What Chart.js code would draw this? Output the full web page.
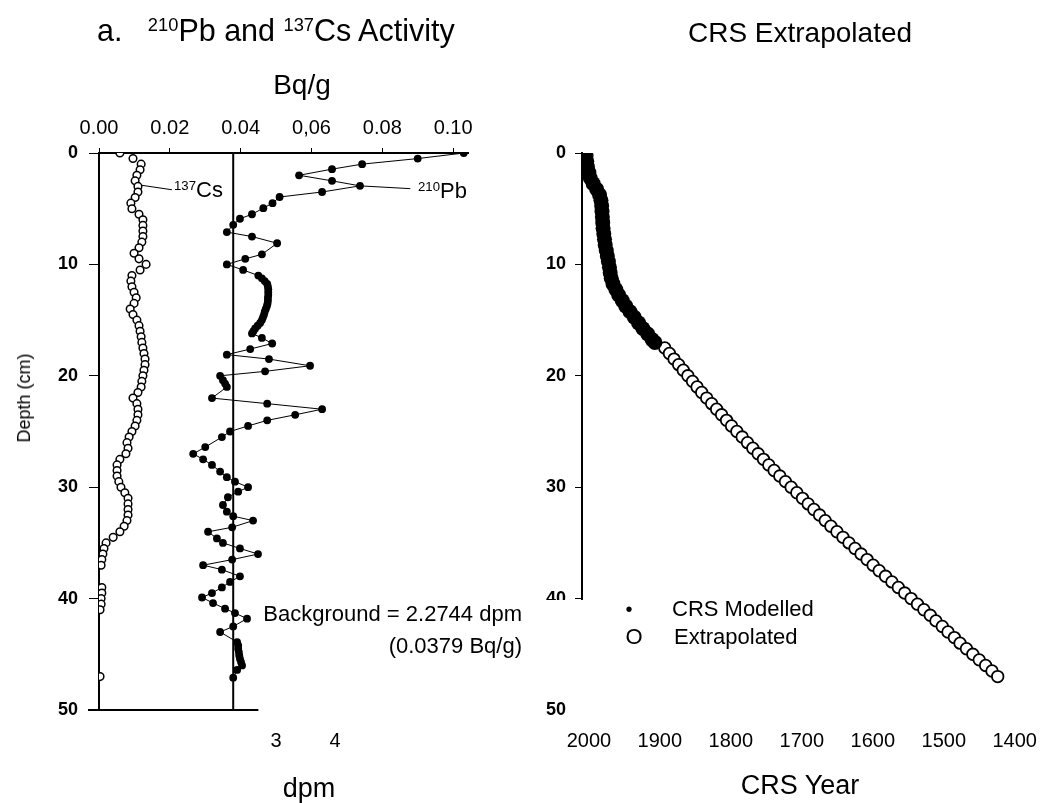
<!DOCTYPE html>
<html>
<head>
<meta charset="utf-8">
<script src="https://cdn.jsdelivr.net/npm/chart.js@4.4.1/dist/chart.umd.min.js"></script>
<style>
  body { margin: 0; background: #fff; }
  #wrap { position: relative; width: 1048px; height: 803px; overflow: hidden;
          font-family: "Liberation Sans", Arial, sans-serif; color: #000; }
  canvas { position: absolute; top: 0; }
  .t { position: absolute; white-space: nowrap; line-height: 1; }
  .c { transform: translate(-50%, -50%); }
  sup { font-size: 0.6em; vertical-align: 0.55em; }
  .mask { position: absolute; background: #fff; z-index: 2; }
</style>
</head>
<body>
<div id="wrap">
  <canvas id="leftChart" width="540" height="803" style="left:0"></canvas>
  <canvas id="rightChart" width="508" height="803" style="left:540px"></canvas>

  <div class="t" style="left:97px; top:15px; font-size:30.5px;">a.&nbsp;&nbsp;&nbsp;<sup>210</sup>Pb and <sup>137</sup>Cs Activity</div>
  <div class="t c" style="left:800px; top:33px; font-size:28px;">CRS Extrapolated</div>
  <div class="t c" style="left:302px; top:85px; font-size:28px;">Bq/g</div>
  <div class="t c" style="left:309px; top:788px; font-size:27px;">dpm</div>
  <div class="t c" style="left:800px; top:785px; font-size:27px;">CRS Year</div>
  <div class="t" style="left:24px; top:398px; font-size:18px; transform: translate(-50%, -50%) rotate(-90deg);">Depth (cm)</div>

  <div class="t" style="left:174px; top:179px; font-size:22px;"><sup>137</sup>Cs</div>
  <div class="t" style="left:418px; top:180px; font-size:22px;"><sup>210</sup>Pb</div>
  <div class="t" style="right:526px; top:603px; font-size:22px; text-align:right;">Background = 2.2744 dpm<br><span style="display:inline-block; margin-top:10px;">(0.0379 Bq/g)</span></div>

  <!-- legend panel sits over the lower end of the right-hand depth axis -->
  <div class="mask" style="left:570px; top:600px; width:30px; height:116px;"></div>
  <div class="mask" style="left:540px; top:600px; width:280px; height:88px;">
    <div class="t c" style="left:89px; top:9px; font-size:20px;">&bull;</div>
    <div class="t" style="left:132px; top:-2px; font-size:22px;">CRS Modelled</div>
    <div class="t c" style="left:94px; top:37px; font-size:22px;">O</div>
    <div class="t" style="left:134px; top:26px; font-size:22px;">Extrapolated</div>
  </div>
</div>

<script>
// ---- left panel: activity profiles (depth in cm, activity in Bq/g) ----
const bqTicks = [0, 0.02, 0.04, 0.06, 0.08, 0.10];
const bqTickLabels = ["0.00", "0.02", "0.04", "0,06", "0.08", "0.10"];
const dpmTicks = [3, 4];
const depthTicks = [0, 10, 20, 30, 40, 50];
const dpmPerBq = 2.2744 / 0.0379;
const background = 0.0379;

const pbDepth = [
  0, 0.5, 1.0, 1.45, 2.0, 2.5, 2.95, 3.5, 3.95, 4.5,
  4.95, 5.5, 5.9, 6.45, 7.1, 7.5, 8.1, 9.1, 9.5, 10.0,
  10.5, 11.0, 11.25, 11.5, 11.75, 12.0, 12.25, 12.5, 12.75, 13.0,
  13.25, 13.5, 13.75, 14.0, 14.25, 14.5, 14.75, 15.0, 15.25, 15.5,
  15.75, 16.0, 16.2, 16.6, 17.1, 17.6, 18.1, 18.5, 19.1, 19.6,
  20.0, 20.4, 20.7, 21.0, 22.0, 22.5, 23.0, 23.5, 24.0, 24.5,
  25.0, 25.5, 26.4, 27.0, 27.5, 28.0, 28.6, 29.1, 29.5, 30.0,
  30.4, 30.9, 31.6, 32.2, 32.6, 33.0, 33.6, 34.0, 34.6, 35.0,
  35.5, 36.0, 36.5, 37.0, 37.4, 38.0, 38.5, 39.0, 39.5, 39.9,
  40.4, 40.9, 41.3, 41.8, 42.5, 43.0, 43.9, 44.2, 44.5, 44.8,
  45.1, 45.4, 45.7, 46.0, 46.4, 47.1
];
const pbBq = [
  0.103, 0.090, 0.0743, 0.0658, 0.0565, 0.0658, 0.0737, 0.063, 0.051, 0.049,
  0.0464, 0.0432, 0.0398, 0.0379, 0.0361, 0.0432, 0.0503, 0.046, 0.0413, 0.0361,
  0.0407, 0.0450, 0.0460, 0.0468, 0.0475, 0.0477, 0.0478, 0.0478, 0.0478, 0.0477,
  0.0477, 0.0476, 0.0474, 0.0471, 0.0468, 0.0466, 0.0463, 0.0460, 0.0455, 0.0448,
  0.0441, 0.0436, 0.0432, 0.0460, 0.0489, 0.0427, 0.0361, 0.0480, 0.0596, 0.0469,
  0.0342, 0.0350, 0.0356, 0.0361, 0.0319, 0.0475, 0.0630, 0.0554, 0.0475, 0.0421,
  0.0370, 0.0347, 0.0300, 0.0266, 0.0294, 0.0319, 0.0342, 0.0361, 0.0384, 0.0421,
  0.0393, 0.0364, 0.0350, 0.0361, 0.0379, 0.0435, 0.0376, 0.0308, 0.0333, 0.0350,
  0.0398, 0.0449, 0.0376, 0.0294, 0.0347, 0.0398, 0.0370, 0.0347, 0.0319, 0.0291,
  0.0322, 0.0356, 0.0384, 0.0418, 0.0379, 0.0342, 0.0390, 0.0393, 0.0393, 0.0395,
  0.0396, 0.0398, 0.0401, 0.0404, 0.0390, 0.0379
];

const csDepth = [
  0, 0.5, 1, 1.5, 2, 2.5, 3, 3.5, 4, 4.5,
  5, 5.5, 6, 6.5, 7, 7.5, 8, 8.5, 9, 9.5,
  10, 10.5, 11, 11.5, 12, 12.5, 13, 13.5, 14, 14.5,
  15, 15.5, 16, 16.5, 17, 17.5, 18, 18.5, 19, 19.5,
  20, 20.5, 21, 21.5, 22, 22.5, 23, 23.5, 24, 24.5,
  25, 25.5, 26, 26.5, 27, 27.5, 28, 28.5, 29, 29.5,
  30, 30.5, 31, 31.5, 32, 32.5, 33, 33.5, 34, 34.5,
  35, 35.5, 36, 36.5, 37, 39, 39.5, 40, 40.5, 41,
  47
];
const csBq = [
  0.0059, 0.0096, 0.0119, 0.0116, 0.0107, 0.0102, 0.0110, 0.0110, 0.0102, 0.0090,
  0.0093, 0.0113, 0.0124, 0.0124, 0.0124, 0.0124, 0.0121, 0.0113, 0.0099, 0.0113,
  0.0133, 0.0116, 0.0093, 0.0090, 0.0093, 0.0099, 0.0105, 0.0099, 0.0088, 0.0096,
  0.0107, 0.0113, 0.0116, 0.0119, 0.0121, 0.0124, 0.0127, 0.0130, 0.0130, 0.0127,
  0.0124, 0.0121, 0.0119, 0.0110, 0.0096, 0.0107, 0.0110, 0.0110, 0.0107, 0.0102,
  0.0093, 0.0085, 0.0079, 0.0082, 0.0076, 0.0059, 0.0051, 0.0051, 0.0051, 0.0056,
  0.0062, 0.0073, 0.0082, 0.0082, 0.0082, 0.0082, 0.0079, 0.0071, 0.0059, 0.0040,
  0.0020, 0.0014, 0.0011, 0.0008, 0.0006, 0.0008, 0.0008, 0.0006, 0.0006, 0.0003,
  0.0003
];

// label leader lines
const csLeaderBq = [0.0121, 0.0206];
const csLeaderDepth = [2.9, 3.3];
const pbLeaderBq = [0.0737, 0.0879];
const pbLeaderDepth = [2.95, 3.2];

// ---- right panel: CRS ages ----
const yearTicks = [2000, 1900, 1800, 1700, 1600, 1500, 1400];
const modelDepth = [
  0.25, 0.75, 1.25, 1.75, 2.25, 2.75, 3.25, 3.75, 4.25, 4.75,
  5.25, 5.75, 6.25, 6.75, 7.25, 7.75, 8.25, 8.75, 9.25, 9.75,
  10.25, 10.75, 11.25, 11.75, 12.25, 12.75, 13.25, 13.75, 14.25, 14.75,
  15.25, 15.75, 16.25, 16.75, 17.0
];
const modelYear = [
  2004, 2003, 2002, 2000, 1998, 1994, 1989, 1985, 1983, 1982,
  1981.5, 1981, 1980.5, 1980, 1979, 1978, 1977, 1975.5, 1974, 1972.5,
  1971, 1970, 1968.5, 1966, 1962, 1958, 1953, 1948, 1942, 1936,
  1930, 1924, 1917, 1911, 1907
];
const extraDepth = [
  17.5, 18, 18.5, 19, 19.5, 20, 20.5, 21, 21.5, 22,
  22.5, 23, 23.5, 24, 24.5, 25, 25.5, 26, 26.5, 27,
  27.5, 28, 28.5, 29, 29.5, 30, 30.5, 31, 31.5, 32,
  32.5, 33, 33.5, 34, 34.5, 35, 35.5, 36, 36.5, 37,
  37.5, 38, 38.5, 39, 39.5, 40, 40.5, 41, 41.5, 42,
  42.5, 43, 43.5, 44, 44.5, 45, 45.5, 46, 46.5, 47
];
const extraYear = [
  1893, 1886.5, 1880, 1873.5, 1867, 1860.5, 1854, 1847.5, 1841, 1834,
  1827, 1820, 1813, 1806, 1799, 1791.5, 1784, 1776.5, 1769, 1761.5,
  1754, 1746.5, 1739, 1731, 1723, 1715, 1707, 1699, 1691, 1683,
  1675, 1667, 1659, 1650.5, 1642, 1633.5, 1625, 1616.5, 1608, 1599.5,
  1591, 1582, 1573, 1564, 1555, 1546, 1537, 1528, 1519, 1511,
  1502, 1494, 1485, 1477, 1468, 1459, 1450, 1441, 1432, 1424
];

Chart.defaults.font.family = "'Liberation Sans', Arial, sans-serif";
Chart.defaults.color = "#000";
Chart.defaults.animation = false;

const pts = (xs, ys) => xs.map((x, i) => ({ x: x, y: ys[i] }));
const setTicks = (vals) => (scale) => { scale.ticks = vals.map((v) => ({ value: v })); };

// short bottom axis line in the left panel
const bottomStub = {
  id: "bottomStub",
  afterDraw(chart) {
    const ctx = chart.ctx;
    const a = chart.chartArea;
    ctx.save();
    ctx.strokeStyle = "#000";
    ctx.lineWidth = 2;
    ctx.beginPath();
    ctx.moveTo(a.left - 11, a.bottom);
    ctx.lineTo(chart.scales.x.getPixelForValue(0.045), a.bottom);
    ctx.stroke();
    ctx.restore();
  },
};

new Chart(document.getElementById("leftChart"), {
  type: "scatter",
  data: {
    datasets: [
      {
        label: "Background",
        data: [{ x: background, y: 0 }, { x: background, y: 50 }],
        showLine: true,
        borderColor: "#000",
        borderWidth: 2,
        pointRadius: 0,
      },
      {
        label: "137Cs",
        data: pts(csBq, csDepth),
        showLine: false,
        pointRadius: 3.8,
        pointBorderWidth: 1.5,
        pointBorderColor: "#000",
        pointBackgroundColor: "#fff",
      },
      {
        label: "210Pb",
        data: pts(pbBq, pbDepth),
        showLine: true,
        borderColor: "#000",
        borderWidth: 1,
        pointRadius: 3.9,
        pointBorderWidth: 0,
        pointBackgroundColor: "#000",
      },
      {
        label: "cs leader",
        data: pts(csLeaderBq, csLeaderDepth),
        showLine: true,
        borderColor: "#000",
        borderWidth: 1,
        pointRadius: 0,
      },
      {
        label: "pb leader",
        data: pts(pbLeaderBq, pbLeaderDepth),
        showLine: true,
        borderColor: "#000",
        borderWidth: 1,
        pointRadius: 0,
      },
    ],
  },
  options: {
    responsive: false,
    layout: { autoPadding: false, padding: { left: 0, top: 0, right: 72, bottom: 0 } },
    plugins: { legend: { display: false }, tooltip: { enabled: false } },
    scales: {
      x: {
        type: "linear",
        position: "top",
        min: 0,
        max: 0.1042,
        afterBuildTicks: setTicks(bqTicks),
        afterFit: (s) => { s.height = 153; },
        ticks: {
          autoSkip: false,
          maxRotation: 0,
          padding: 8,
          font: { size: 20 },
          callback: (v, i) => bqTickLabels[i],
        },
        grid: { drawOnChartArea: false, tickLength: 5, color: "#000" },
        border: { color: "#000", width: 2 },
      },
      x2: {
        type: "linear",
        position: "bottom",
        min: 0,
        max: 0.1042 * dpmPerBq,
        afterBuildTicks: setTicks(dpmTicks),
        afterFit: (s) => { s.height = 93; },
        ticks: { autoSkip: false, maxRotation: 0, padding: 11, font: { size: 20 } },
        grid: { display: false },
        border: { display: false },
      },
      y: {
        type: "linear",
        reverse: true,
        min: 0,
        max: 50,
        afterBuildTicks: setTicks(depthTicks),
        afterFit: (s) => { s.width = 99; },
        ticks: { padding: 11, font: { size: 18, weight: "bold" } },
        grid: { drawOnChartArea: false, tickLength: 10, color: "#000" },
        border: { color: "#000", width: 2 },
      },
    },
  },
  plugins: [bottomStub],
});

new Chart(document.getElementById("rightChart"), {
  type: "scatter",
  data: {
    datasets: [
      {
        label: "CRS Modelled",
        data: pts(modelYear, modelDepth),
        showLine: false,
        pointRadius: 7.5,
        pointBorderWidth: 0,
        pointBackgroundColor: "#000",
      },
      {
        label: "Extrapolated",
        data: pts(extraYear, extraDepth),
        showLine: false,
        pointRadius: 5.8,
        pointBorderWidth: 1.8,
        pointBorderColor: "#000",
        pointBackgroundColor: "#fff",
      },
    ],
  },
  options: {
    responsive: false,
    layout: { autoPadding: false, padding: { left: 0, top: 153, right: 1, bottom: 0 } },
    plugins: { legend: { display: false }, tooltip: { enabled: false } },
    scales: {
      x: {
        type: "linear",
        reverse: true,
        min: 1386,
        max: 2009.7,
        afterBuildTicks: setTicks(yearTicks),
        afterFit: (s) => { s.height = 93; },
        ticks: {
          autoSkip: false,
          maxRotation: 0,
          padding: 11,
          font: { size: 20 },
          callback: (v) => String(v),
        },
        grid: { display: false },
        border: { display: false },
      },
      y: {
        type: "linear",
        reverse: true,
        min: 0,
        max: 50,
        afterBuildTicks: setTicks(depthTicks),
        afterFit: (s) => { s.width = 42; },
        ticks: { padding: 9, font: { size: 18, weight: "bold" } },
        grid: {
          drawOnChartArea: false,
          tickLength: 7,
          color: "#000",
          tickColor: (c) => (c.tick && c.tick.value === 50 ? "rgba(0,0,0,0)" : "#000"),
        },
        border: { color: "#000", width: 2 },
      },
    },
  },
});
</script>
</body>
</html>
